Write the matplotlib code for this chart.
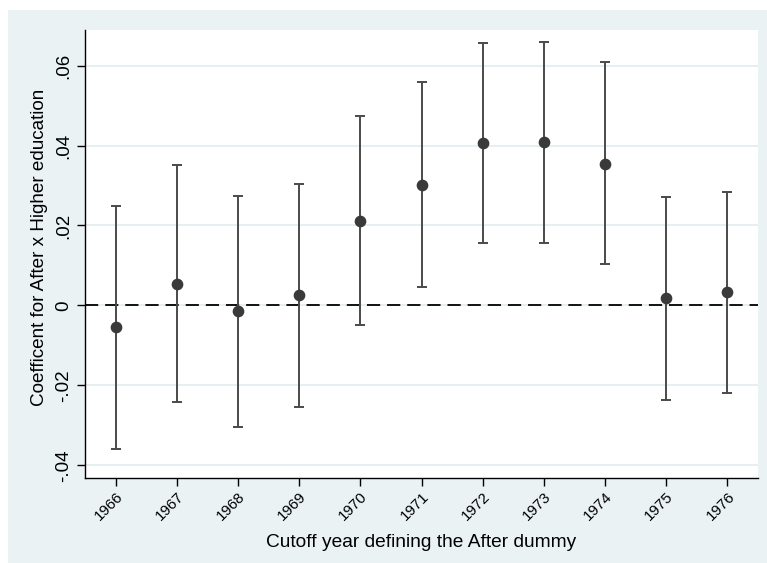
import matplotlib
matplotlib.use("Agg")
import matplotlib.pyplot as plt
from matplotlib.patches import Rectangle
import numpy as np

years = [1966, 1967, 1968, 1969, 1970, 1971, 1972, 1973, 1974, 1975, 1976]
coef = [-0.0055, 0.0054, -0.0015, 0.0025, 0.0212, 0.0301, 0.0407, 0.0408, 0.0355, 0.0018, 0.0033]
ci_low = [-0.0358, -0.0242, -0.0304, -0.0255, -0.0049, 0.0045, 0.0157, 0.0157, 0.0104, -0.0236, -0.0219]
ci_high = [0.0249, 0.0351, 0.0274, 0.0303, 0.0474, 0.0559, 0.0656, 0.0659, 0.0609, 0.0271, 0.0283]
ytick_vals = [-0.04, -0.02, 0, 0.02, 0.04, 0.06]
ytick_labels = ["-.04", "-.02", "0", ".02", ".04", ".06"]
xlabel = "Cutoff year defining the After dummy"
ylabel = "Coefficent for After x Higher education"

plt.rcParams['font.family'] = ['Liberation Sans', 'DejaVu Sans']
plt.rcParams['lines.scale_dashes'] = False

W, H = 767, 563
fig = plt.figure(figsize=(W / 100, H / 100), dpi=100, facecolor="white")
bg = "#EAF2F3"
fig.add_artist(Rectangle((8 / W, 0), 1 - 8 / W, 1 - 10 / H, transform=fig.transFigure,
                         facecolor=bg, edgecolor="none", zorder=-10))

ax = fig.add_axes([85 / W, 1 - 477.7 / H, (758 - 85) / W, (477.7 - 30) / H])
ax.set_zorder(1)
ax.set_facecolor("white")

coef_a = np.array(coef)
lo = coef_a - np.array(ci_low)
hi = np.array(ci_high) - coef_a
ax.errorbar(years, coef, yerr=[lo, hi], fmt="none", ecolor="#4a4a4a",
            elinewidth=1.4, capsize=3.6, capthick=1.4, zorder=3)
ax.plot(years, coef, "o", color="#3a3a3a", markersize=7.4, zorder=4)

ax.axhline(0, color="black", lw=1.3, linestyle=(0, (9.5, 5)), zorder=2)

ax.set_xlim(1965.5, 1976.5)
ax.set_ylim(-0.0431, 0.0689)
ax.set_yticks(ytick_vals)
ax.set_yticklabels(ytick_labels, rotation=90, va="center", fontsize=13.5)
ax.set_xticks(years)
ax.set_xticklabels([str(y) for y in years], rotation=45, ha="right", va="top",
                   rotation_mode="anchor", fontsize=10.8)
ax.grid(axis="y", color="#E4EEF0", lw=1.3, zorder=0)
ax.set_axisbelow(True)

for s in ["top", "right"]:
    ax.spines[s].set_visible(False)
for s in ["left", "bottom"]:
    ax.spines[s].set_color("black")
    ax.spines[s].set_linewidth(1.0)
ax.tick_params(axis="both", direction="out", length=5.5, width=1.0, color="black",
               labelcolor="black", pad=3)
ax.tick_params(axis="y", pad=4)
ax.tick_params(axis="x", pad=3)

ax.set_xlabel(xlabel, fontsize=13.8)
ax.set_ylabel(ylabel, fontsize=13.6)
ax.xaxis.set_label_coords(0.5, -(534 - 477.7) / 447.7)
ax.yaxis.set_label_coords((48 - 85) / 673, (477.7 - 247.4) / 447.7)

fig.savefig("out.png", dpi=100, facecolor=fig.get_facecolor())
